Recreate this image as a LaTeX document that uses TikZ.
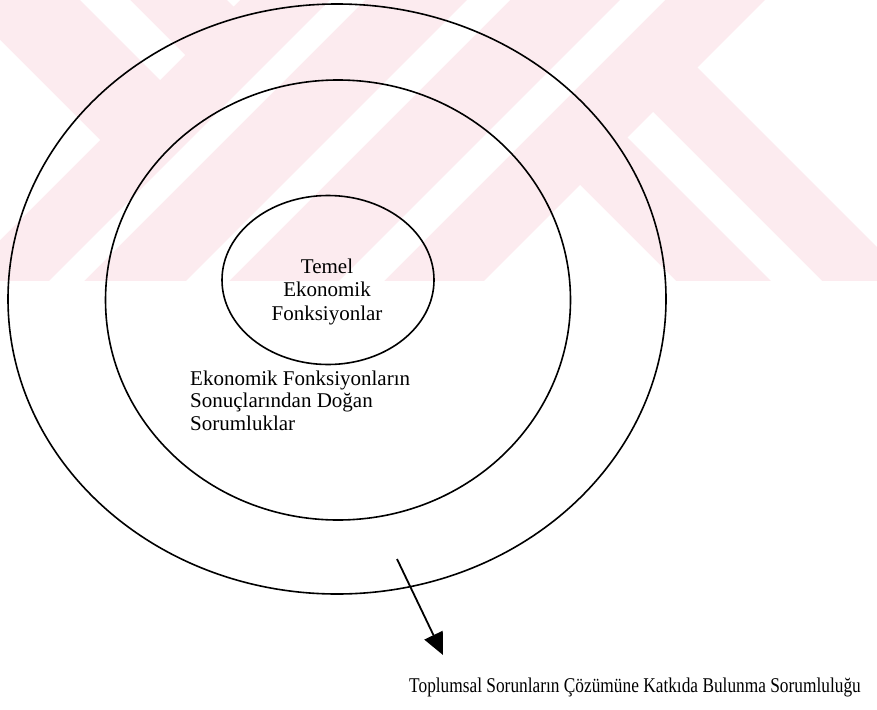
\documentclass[tikz,border=0pt]{standalone}
\usepackage{graphicx}
\usepackage{fontspec}
\setmainfont{Liberation Serif}
\usetikzlibrary{shapes.geometric,arrows.meta}
\definecolor{wmpink}{RGB}{252,235,239}

\begin{document}
\begin{tikzpicture}[x=1pt,y=-1pt,>={Triangle[length=22pt,width=20pt]},
  ring/.style={draw,ellipse,line width=1.6pt,inner sep=0pt},
  lbl/.style={font=\fontsize{21}{23.5}\selectfont,inner sep=0pt}]
\useasboundingbox (0,0) rectangle (877,709);
\begin{scope}
\clip (0,0) rectangle (877,281);
\fill[wmpink] (0,0) rectangle (877,281);
\fill[white] (0,40) -- (100,140) -- (0,240) -- cycle;
\fill[white] (80,0) -- (130,0) -- (185,55) -- (160,80) -- cycle;
\fill[white] (227,0) -- (240,0) -- (233.5,6.5) -- cycle;
\fill[white] (330,0) -- (365,0) -- (65,300) -- (30,300) -- cycle;
\fill[white] (467,0) -- (510,0) -- (210,300) -- (167,300) -- cycle;
\fill[white] (620,0) -- (665,0) -- (365,300) -- (320,300) -- cycle;
\fill[white] (697.5,67.5) -- (765,0) -- (877,0) -- (877,247) -- cycle;
\fill[white] (627.5,137.5) -- (653,112) -- (841,300) -- (790,300) -- cycle;
\fill[white] (580,185) -- (695,300) -- (465,300) -- cycle;
\end{scope}
\node[ring,minimum width=658pt,minimum height=590pt] (outer) at (337,299) {};
\node[ring,minimum width=465pt,minimum height=440pt] (middle) at (338,300) {};
\node[ring,minimum width=212pt,minimum height=169pt] (inner) at (328,280) {};
\node[lbl,align=center,anchor=base] (temel) at (327,320) {Temel\\Ekonomik\\Fonksiyonlar};
\node[lbl,align=left,anchor=base west,font=\fontsize{21}{22.5}\selectfont] (sonuc) at (190,430)
  {Ekonomik Fonksiyonların\\Sonuçlarından Doğan\\Sorumluklar};
\node[lbl,anchor=base west] (toplum) at (409,692)
  {\scalebox{0.825}[1]{Toplumsal Sorunların Çözümüne Katkıda Bulunma Sorumluluğu}};
\coordinate (arrfrom) at (397,559);
\coordinate (arrto) at (443,655);
\draw[->,line width=1.8pt] (arrfrom) -- (arrto);
\end{tikzpicture}
\end{document}
